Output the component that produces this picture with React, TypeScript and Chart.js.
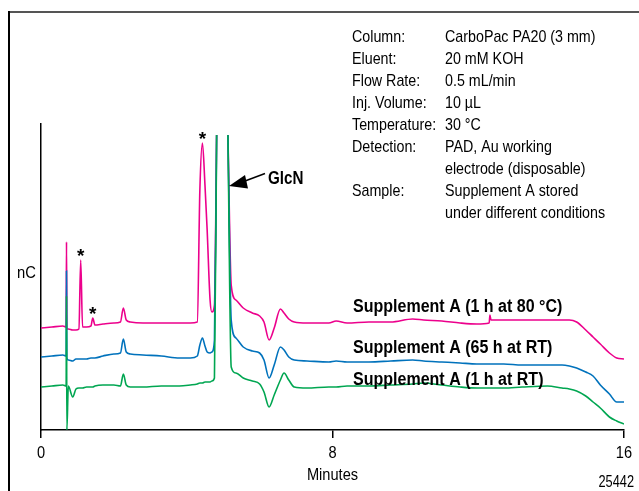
import React, { useEffect, useRef } from "react";
import { Chart, registerables } from "chart.js";

Chart.register(...registerables);

const FONT = "'Liberation Sans', Arial, sans-serif";

// Retention time (minutes)
const TIME_MIN = [
  0, 0.3, 0.6, 0.69, 0.7, 0.71, 0.75, 0.87, 0.96, 1.04,
  1.09, 1.14, 1.25, 1.37, 1.42, 1.48, 1.7, 2.0, 2.18, 2.26,
  2.34, 2.45, 2.8, 3.3, 3.8, 4.1, 4.29, 4.36, 4.43, 4.5,
  4.56, 4.64, 4.69, 4.76, 4.82, 4.97, 5.13, 5.22, 5.35, 5.55,
  5.8, 6.0, 6.12, 6.26, 6.4, 6.57, 6.67, 6.8, 6.95, 7.3,
  7.9, 8.1, 8.4, 9.0, 9.6, 10.2, 10.5, 11.0, 11.5, 11.96,
  12.3, 12.32, 12.35, 12.7, 13.2, 13.9, 14.3, 14.5, 14.7, 14.95,
  15.15, 15.35, 15.6, 15.8, 16.0,
];

// Detector response (nC, arbitrary offset per trace); null = off scale (GlcN apex)
const SUPPLEMENT_80C = [
  102, 103, 104, 103, 188, 101, 101, 100, 100, 101,
  170, 103, 103, 104, 112, 105, 106, 107, 108, 122,
  110, 108, 107, 107, 107, 107, 108, 240, 287, 245,
  200, 130, 118, 125, 295, null, 295, 145, 130, 122,
  117, 114, 108, 90, 102, 121, 117, 111, 108, 107,
  107, 109, 107, 108, 108, 111, 110, 109, 107, 106,
  107, 115, 110, 110, 110, 110, 110, 110, 108, 100,
  93, 86, 77, 72, 71,
];
const SUPPLEMENT_65H_RT = [
  73, 74, 75, 74, 159, 72, 70, 69, 71, 71,
  71, 71, 71, 72, 72, 72, 74, 76, 77, 91,
  78, 76, 75, 74, 72, 72, 74, 85, 92, 84,
  78, 77, 78, 90, 295, null, 295, 110, 92, 83,
  79, 77, 70, 52, 65, 83, 80, 73, 70, 69,
  68, 69, 68, 68, 69, 70, 69, 68, 67, 66,
  66, 66, 66, 66, 65, 65, 65, 64, 62, 58,
  54, 45, 36, 28, 28,
];
const SUPPLEMENT_1H_RT = [
  43, 44, 45, 44, 134, 0, 44, 33, 41, 42,
  42, 42, 43, 43, 43, 44, 45, 45, 44, 56,
  45, 43, 43, 44, 44, 45, 46, 47, 47, 48,
  48, 48, 49, 52, 295, null, 295, 63, 57, 52,
  49, 46, 38, 23, 35, 50, 57, 50, 43, 42,
  43, 43, 44, 44, 45, 46, 47, 45, 43, 42,
  42, 42, 42, 42, 43, 44, 42, 41, 39, 34,
  28, 22, 13, 9, 6,
];

const X_TICKS = [0, 8, 16];
const X_TITLE = "Minutes";
const Y_TITLE = "nC";
const SERIES_LABELS = [
  "Supplement A (1 h at 80 °C)",
  "Supplement A (65 h at RT)",
  "Supplement A (1 h at RT)",
];
const SERIES_COLORS = ["#EC008C", "#0072BC", "#00A651"];
const CONDITION_KEYS = [
  "Column:", "Eluent:", "Flow Rate:", "Inj. Volume:", "Temperature:",
  "Detection:", "", "Sample:", "",
];
const CONDITION_VALUES = [
  "CarboPac PA20 (3 mm)", "20 mM KOH", "0.5 mL/min", "10 µL", "30 °C",
  "PAD, Au working", "electrode (disposable)", "Supplement A stored",
  "under different conditions",
];
const STAR_TIMES = [1.09, 1.42, 4.43];
const GLCN_TIME = 5.16;
const FIGURE_ID = "25442";

const toPoints = (vals: (number | null)[]) =>
  TIME_MIN.map((t, i) => ({ x: t, y: vals[i] }));

// condensed text: Liberation Sans squeezed horizontally
function cText(
  ctx: CanvasRenderingContext2D,
  text: string,
  x: number,
  y: number,
  size: number,
  opts: { bold?: boolean; align?: "left" | "center" | "right"; sx?: number } = {}
) {
  const sx = opts.sx ?? 0.84;
  ctx.save();
  ctx.font = `${opts.bold ? "bold " : ""}${size}px ${FONT}`;
  ctx.textBaseline = "alphabetic";
  ctx.textAlign = opts.align ?? "left";
  ctx.translate(x, y);
  ctx.scale(sx, 1);
  ctx.fillText(text, 0, 0);
  ctx.restore();
}

const annotations = {
  id: "annotations",
  beforeDraw(chart: any) {
    const ctx = chart.ctx;
    ctx.save();
    ctx.lineCap = "butt";
    ctx.strokeStyle = "#555555";
    ctx.lineWidth = 2;
    ctx.beginPath();
    ctx.moveTo(8, 12);
    ctx.lineTo(639, 12);
    ctx.stroke();
    ctx.strokeStyle = "#000000";
    ctx.beginPath();
    ctx.moveTo(9, 11);
    ctx.lineTo(9, 491);
    ctx.stroke();
    ctx.restore();
  },
  afterDraw(chart: any) {
    const ctx = chart.ctx;
    const xs = chart.scales.x;
    const ys = chart.scales.y;
    ctx.save();
    ctx.fillStyle = "#000";

    // Conditions block
    CONDITION_KEYS.forEach((k, i) => {
      const yb = 42 + i * 22;
      if (k) cText(ctx, k, 352, yb, 17);
      cText(ctx, CONDITION_VALUES[i], 445, yb, 17);
    });

    // axis labels
    cText(ctx, Y_TITLE, 17, 278, 17, { sx: 0.87 });
    X_TICKS.forEach((v) => {
      cText(ctx, String(v), xs.getPixelForValue(v), 458, 17, { align: "center", sx: 0.86 });
    });
    cText(ctx, X_TITLE, (xs.left + xs.right) / 2, 480, 17, { align: "center", sx: 0.86 });

    // figure number
    cText(ctx, FIGURE_ID, 634, 487, 16, { align: "right", sx: 0.8 });

    // trace labels
    const baselines = [312, 353, 385];
    SERIES_LABELS.forEach((s, i) => cText(ctx, s, 353, baselines[i], 18, { bold: true, sx: 0.89 }));

    // asterisks above peaks
    STAR_TIMES.forEach((t) => {
      const idx = TIME_MIN.indexOf(t);
      const v = SUPPLEMENT_80C[idx] as number;
      const px = xs.getPixelForValue(t);
      const py = ys.getPixelForValue(v) - 9;
      cText(ctx, "*", px, py + 11, 19, { bold: true, align: "center", sx: 1 });
    });

    // GlcN arrow + label
    const tipX = xs.getPixelForValue(GLCN_TIME);
    const tipY = 186;
    ctx.strokeStyle = "#000";
    ctx.lineWidth = 1.5;
    ctx.beginPath();
    ctx.moveTo(tipX + 16, 181);
    ctx.lineTo(tipX + 36, 173.5);
    ctx.stroke();
    ctx.beginPath();
    ctx.moveTo(tipX, tipY);
    ctx.lineTo(tipX + 16, 175);
    ctx.lineTo(tipX + 19, 188.5);
    ctx.closePath();
    ctx.fill();
    cText(ctx, "GlcN", tipX + 39, 184, 19, { bold: true, sx: 0.8 });
    ctx.restore();
  },
};

export default function App() {
  const ref = useRef<HTMLCanvasElement | null>(null);
  useEffect(() => {
    if (!ref.current) return;
    const series = [
      { data: SUPPLEMENT_1H_RT, color: SERIES_COLORS[2], label: SERIES_LABELS[2] },
      { data: SUPPLEMENT_65H_RT, color: SERIES_COLORS[1], label: SERIES_LABELS[1] },
      { data: SUPPLEMENT_80C, color: SERIES_COLORS[0], label: SERIES_LABELS[0] },
    ];
    const chart = new Chart(ref.current, {
      type: "line",
      data: {
        datasets: series.map((s) => ({
          label: s.label,
          data: toPoints(s.data),
          borderColor: s.color,
          backgroundColor: s.color,
          borderWidth: 1.6,
          pointRadius: 0,
          cubicInterpolationMode: "monotone" as const,
          spanGaps: false,
        })),
      },
      options: {
        animation: false,
        responsive: true,
        maintainAspectRatio: false,
        layout: { padding: { left: 0, top: 124, right: 15, bottom: 0 } },
        plugins: { legend: { display: false }, tooltip: { enabled: false } },
        scales: {
          x: {
            type: "linear",
            min: 0,
            max: 16,
            afterBuildTicks: (s: any) => {
              s.ticks = X_TICKS.map((v) => ({ value: v }));
            },
            afterFit: (s: any) => {
              s.height = 61;
            },
            grid: {
              drawOnChartArea: false,
              drawTicks: true,
              tickLength: 8,
              color: "#000",
              lineWidth: 1.5,
            },
            border: { display: true, color: "#000", width: 1.5 },
            ticks: { display: false },
            title: { display: false },
          },
          y: {
            type: "linear",
            min: 0,
            max: 306,
            afterFit: (s: any) => {
              s.width = 41;
            },
            grid: { display: false },
            border: { display: true, color: "#000", width: 1.5 },
            ticks: { display: false },
          },
        },
      },
      plugins: [annotations],
    });
    return () => chart.destroy();
  }, []);
  return (
    <div style={{ position: "fixed", left: 0, top: 0, width: 639, height: 491, background: "#fff" }}>
      <canvas ref={ref} />
    </div>
  );
}
